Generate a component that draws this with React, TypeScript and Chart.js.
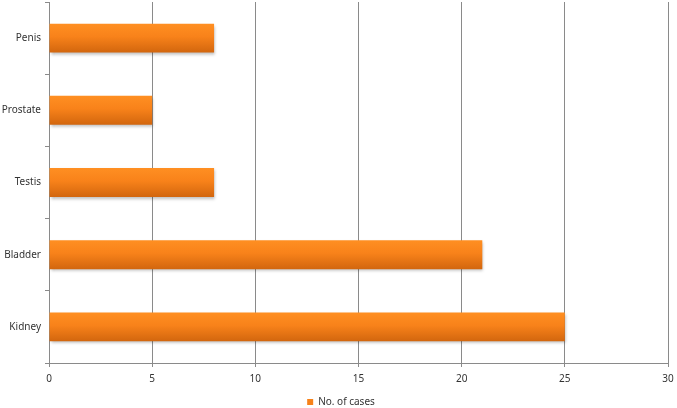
import React, { useEffect, useRef } from "react";
import { Chart, registerables } from "chart.js";

Chart.register(...registerables);

const categories = ["Penis", "Prostate", "Testis", "Bladder", "Kidney"];
const cases = [8, 5, 8, 21, 25];
const seriesLabel = "No. of cases";
const xMin = 0;
const xMax = 30;
const xStep = 5;

const gradientPlugin = {
  id: "barGradient",
  afterLayout(chart: any) {
    const l = chart.legend;
    if (l) {
      l.left += 7;
      l.right += 7;
    }
  },
  beforeDatasetsDraw(chart: any) {
    const ctx = chart.ctx;
    const meta = chart.getDatasetMeta(0);
    meta.data.forEach((el: any) => {
      const top = el.y - el.height / 2;
      const bottom = el.y + el.height / 2;
      const g = ctx.createLinearGradient(0, top, 0, bottom);
      g.addColorStop(0, "#FF8F22");
      g.addColorStop(0.45, "#F8821A");
      g.addColorStop(1, "#D2660E");
      el.options = Object.assign({}, el.options, { backgroundColor: g });
    });
    ctx.save();
    ctx.shadowColor = "rgba(0,0,0,0.28)";
    ctx.shadowBlur = 3;
    ctx.shadowOffsetX = 1;
    ctx.shadowOffsetY = 2;
  },
  afterDatasetsDraw(chart: any) {
    chart.ctx.restore();
  },
};

export default function App() {
  const ref = useRef<HTMLCanvasElement | null>(null);
  useEffect(() => {
    document.body.style.margin = "0";
    if (!ref.current) return;
    const font = { family: "'Noto Sans', 'DejaVu Sans', sans-serif", size: 10 };
    const chart = new Chart(ref.current, {
      type: "bar",
      data: {
        labels: categories,
        datasets: [
          {
            label: seriesLabel,
            data: cases,
            backgroundColor: "#F7821A",
            borderWidth: 0,
            barPercentage: 0.4,
            categoryPercentage: 1,
          },
        ],
      },
      plugins: [gradientPlugin],
      options: {
        indexAxis: "y",
        animation: false,
        responsive: false,
        maintainAspectRatio: false,
        layout: { padding: { top: 2, right: 9, left: 0, bottom: -9 } },
        scales: {
          x: {
            min: xMin,
            max: xMax,
            ticks: { stepSize: xStep, color: "#333", font, padding: 6 },
            grid: { color: "#8a8a8a", lineWidth: 1, tickLength: 4, drawTicks: true },
            border: { color: "#8a8a8a" },
            afterFit(scale: any) {
              scale.height = 32;
              scale.paddingLeft = 0;
              scale.paddingRight = 0;
            },
          },
          y: {
            ticks: { color: "#333", font, padding: 4 },
            grid: { drawOnChartArea: false, tickLength: 4, color: "#8a8a8a", offset: true },
            border: { color: "#8a8a8a" },
            afterFit(scale: any) {
              scale.width = 49;
              scale.paddingTop = 0;
              scale.paddingBottom = 0;
            },
          },
        },
        plugins: {
          legend: {
            position: "bottom",
            labels: { boxWidth: 6, boxHeight: 6, font, color: "#333", padding: 2 },
          },
          tooltip: { enabled: false },
        },
      },
    });
    return () => chart.destroy();
  }, []);
  return (
    <div style={{ width: 677, height: 408 }}>
      <canvas ref={ref} width={677} height={408} style={{ width: 677, height: 408 }} />
    </div>
  );
}
